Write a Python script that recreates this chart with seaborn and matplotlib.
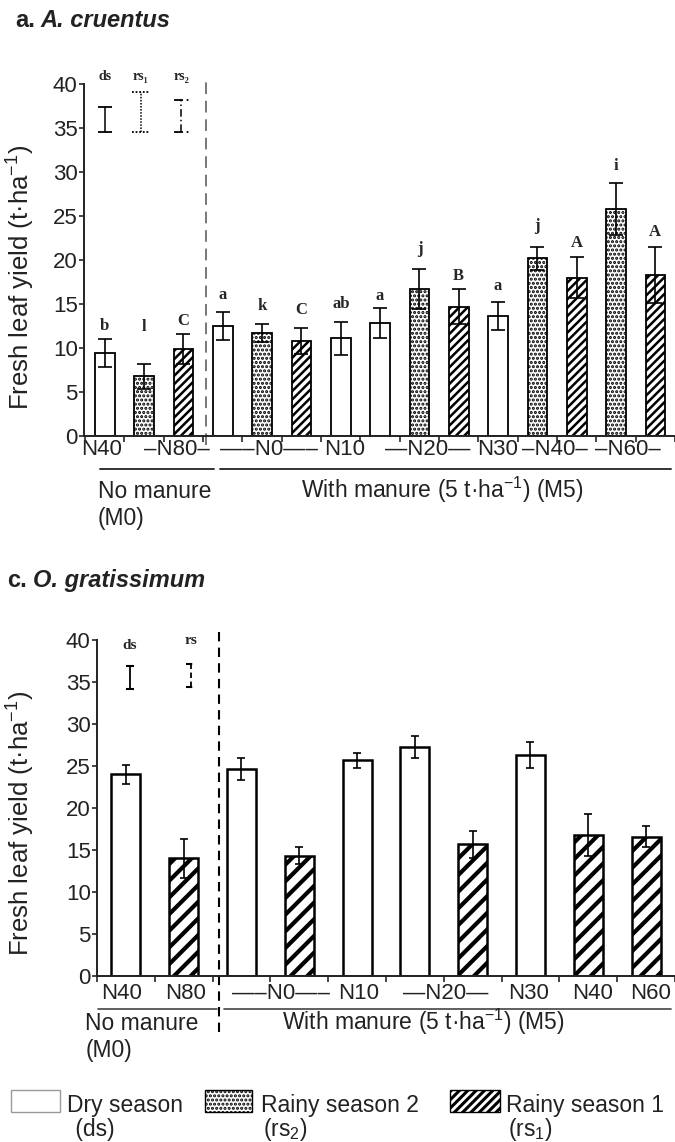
import numpy as np
import pandas as pd
import matplotlib
matplotlib.use("Agg")
import matplotlib.pyplot as plt
from matplotlib.patches import Rectangle
import seaborn as sns

# ---- panel a: A. cruentus ----
a_season = ["ds", "rs2", "rs1", "ds", "rs2", "rs1", "ds", "ds", "rs2", "rs1",
            "ds", "rs2", "rs1", "rs2", "rs1"]
a_yield = [9.4, 6.8, 9.9, 12.5, 11.7, 10.8, 11.1, 12.8, 16.7, 14.7,
           13.6, 20.2, 18.0, 25.8, 18.3]
a_err = [1.6, 1.4, 1.7, 1.6, 1.0, 1.5, 1.85, 1.7, 2.3, 2.0,
         1.6, 1.3, 2.3, 2.9, 3.2]
a_letters = ["b", "l", "C", "a", "k", "C", "ab", "a", "j", "B",
             "a", "j", "A", "i", "A"]
a_letter_y = [12.0, 11.9, 12.6, 15.6, 14.3, 13.9, 14.5, 15.5, 20.8, 17.7,
              16.6, 23.4, 21.5, 30.2, 22.7]
a_tick_labels = ["N40", "–N80–", "—–N0—–", "N10", "—N20—", "N30", "–N40–", "–N60–"]
a_tick_pos = [-0.08, 1.84, 4.17, 6.1, 8.2, 10.0, 11.45, 13.3]
# LSD keys (bottom, top)
a_key_names = ["ds", "rs₁", "rs₂"]
a_key_lo = [34.6, 34.6, 34.6]
a_key_hi = [37.4, 39.1, 38.2]

# ---- panel c: O. gratissimum ----
c_season = ["ds", "rs1", "ds", "rs1", "ds", "ds", "rs1", "ds", "rs1", "rs1"]
c_yield = [24.0, 14.0, 24.6, 14.3, 25.7, 27.3, 15.7, 26.3, 16.8, 16.6]
c_err = [1.1, 2.3, 1.3, 1.0, 0.9, 1.3, 1.6, 1.5, 2.5, 1.3]
c_tick_labels = ["N40", "N80", "—–N0—–", "N10", "—N20—", "N30", "N40", "N60"]
c_tick_pos = [-0.07, 1.04, 2.68, 4.02, 5.53, 6.96, 8.07, 9.07]
c_key_names = ["ds", "rs"]
c_key_lo = [34.2, 34.4]
c_key_hi = [36.9, 37.1]

sns.set_style("ticks")
plt.rcParams["font.family"] = ["Liberation Sans", "DejaVu Sans"]
plt.rcParams["mathtext.fontset"] = "custom"
plt.rcParams["mathtext.rm"] = "Liberation Sans"
plt.rcParams["mathtext.it"] = "Liberation Sans:italic"
plt.rcParams["mathtext.bf"] = "Liberation Sans:bold"
plt.rcParams["hatch.color"] = "black"

SERIF = ["Liberation Serif", "DejaVu Serif"]
TXT = "#222222"


def draw_bars(ax, values, errors, seasons, hatches, hatch_lw, edge_lw, capsize):
    df = pd.DataFrame({"bar": range(len(values)), "yield": values, "season": seasons})
    sns.barplot(data=df, x="bar", y="yield", color="white", saturation=1,
                edgecolor="black", linewidth=edge_lw, width=0.5, errorbar=None, ax=ax)
    for patch, s in zip(ax.patches, seasons):
        patch.set_hatch(hatches[s])
        if hasattr(patch, "set_hatch_linewidth"):
            patch.set_hatch_linewidth(hatch_lw[s])
    ax.errorbar(df["bar"], df["yield"], yerr=errors, fmt="none", ecolor="black",
                elinewidth=1.2, capsize=capsize, capthick=1.2)


def style_axis(ax, tick_pos, tick_labels, n, xlim, pad):
    ax.set_ylim(0, 40)
    ax.set_yticks(range(0, 41, 5))
    ax.set_xlim(*xlim)
    ax.set_xticks(tick_pos)
    ax.set_xticklabels(tick_labels)
    ax.set_xticks(np.arange(-0.5, n, 1.0), minor=True)
    ax.tick_params(axis="x", which="major", length=0, pad=pad, labelsize=16, labelcolor=TXT)
    ax.tick_params(axis="x", which="minor", length=4, width=1.2, direction="out")
    ax.tick_params(axis="y", length=3.5, width=1.2, pad=1, labelsize=16, labelcolor=TXT)
    ax.set_xlabel("")
    ax.set_ylabel("Fresh leaf yield (t·ha$^{-1}$)", fontsize=18.5, color=TXT)
    sns.despine(ax=ax)
    for sp in ["left", "bottom"]:
        ax.spines[sp].set_linewidth(1.4)
        ax.spines[sp].set_color("#222222")


fig = plt.figure(figsize=(6.75, 11.42), dpi=100)

# ---------------- panel a ----------------
ax_a = fig.add_axes([0.1244, 0.6182, 0.8756, 0.3082])
draw_bars(ax_a, a_yield, a_err, a_season,
          {"ds": "", "rs2": "....", "rs1": "////"},
          {"ds": 1.0, "rs2": 1.5, "rs1": 1.8}, 1.3, 5)
style_axis(ax_a, a_tick_pos, a_tick_labels, len(a_yield), (-0.53, 14.39), 2)
ax_a.yaxis.set_label_coords(-0.08, 0.45)

for i, (lab, ly) in enumerate(zip(a_letters, a_letter_y)):
    ax_a.text(i, ly, lab, ha="center", va="baseline", fontsize=12,
              fontweight="bold", family=SERIF)

a_key_x = [0, 0.92, 1.95]
a_key_half = [0.18, 0.23, 0.2]
a_key_ls = ["-", (0, (1, 1)), (0, (5, 2, 1, 2))]
for x, lo, hi, half, ls, name in zip(a_key_x, a_key_lo, a_key_hi, a_key_half, a_key_ls, a_key_names):
    ax_a.vlines(x, lo, hi, colors="black", linestyles=ls, lw=1.1, clip_on=False)
    ax_a.hlines([lo, hi], x - half, x + half, colors="black", linestyles=ls, lw=1.3, clip_on=False)
    ax_a.text(x, 40.5, name, ha="center", va="baseline", fontsize=10,
              fontweight="bold", family=SERIF, clip_on=False)

ax_a.plot([2.58, 2.58], [-1.0, 40.8], color="#777777", lw=1.4, ls=(0, (6, 3.5)), clip_on=False)
ax_a.plot([-0.13, 2.78], [-3.75, -3.75], color="#333333", lw=1.4, clip_on=False)
ax_a.plot([2.93, 14.39], [-3.75, -3.75], color="#333333", lw=1.4, clip_on=False)
ax_a.text(-0.18, -7.05, "No manure", fontsize=16.5, va="baseline", ha="left", color=TXT, clip_on=False)
ax_a.text(-0.18, -10.1, "(M0)", fontsize=16.5, va="baseline", ha="left", color=TXT, clip_on=False)
ax_a.text(5.0, -7.05, "With manure (5 t·ha$^{-1}$) (M5)", fontsize=16.5,
          va="baseline", ha="left", color=TXT, clip_on=False)

# ---------------- panel c ----------------
ax_c = fig.add_axes([0.1437, 0.1454, 0.8563, 0.2942])
draw_bars(ax_c, c_yield, c_err, c_season, {"ds": "", "rs1": "//"},
          {"ds": 1.0, "rs1": 3.0}, 1.8, 3)
style_axis(ax_c, c_tick_pos, c_tick_labels, len(c_yield), (-0.5, 9.43), 5)
ax_c.yaxis.set_label_coords(-0.104, 0.455)

c_key_x = [0.07, 1.12]
c_key_half = [0.07, 0.08]
c_key_ls = ["-", (0, (3, 2))]
for x, lo, hi, half, ls, name, ty in zip(c_key_x, c_key_lo, c_key_hi, c_key_half,
                                         c_key_ls, c_key_names, [38.9, 39.5]):
    ax_c.vlines(x, lo, hi, colors="black", linestyles=ls, lw=1.3, clip_on=False)
    ax_c.hlines([lo, hi], x - half, x + half, colors="black", linestyles=ls, lw=1.5, clip_on=False)
    ax_c.text(x, ty, name, ha="center", va="baseline", fontsize=11,
              fontweight="bold", family=SERIF, clip_on=False)

ax_c.plot([1.615, 1.615], [-6.7, 41.3], color="black", lw=1.5, ls=(0, (4.5, 3)), clip_on=False)
ax_c.plot([-0.48, 1.58], [-3.93, -3.93], color="#444444", lw=1.2, clip_on=False)
ax_c.plot([1.70, 9.43], [-3.93, -3.93], color="#444444", lw=1.2, clip_on=False)
ax_c.text(-0.70, -6.43, "No manure", fontsize=16.5, va="baseline", ha="left", color=TXT, clip_on=False)
ax_c.text(-0.70, -9.7, "(M0)", fontsize=16.5, va="baseline", ha="left", color=TXT, clip_on=False)
ax_c.text(2.70, -6.43, "With manure (5 t·ha$^{-1}$) (M5)", fontsize=16.5,
          va="baseline", ha="left", color=TXT, clip_on=False)

# ---------------- titles ----------------
H = 1142.0
fig.text(15 / 675, 1 - 27 / H, "a.", fontsize=17, fontweight="bold", va="baseline", color=TXT)
fig.text(40 / 675, 1 - 27 / H, "A. cruentus", fontsize=17, fontweight="bold",
         style="italic", va="baseline", color=TXT)
fig.text(7 / 675, 1 - 587 / H, "c.", fontsize=17, fontweight="bold", va="baseline", color=TXT)
fig.text(33 / 675, 1 - 587 / H, "O. gratissimum", fontsize=17, fontweight="bold",
         style="italic", va="baseline", color=TXT)

# ---------------- legend ----------------
legend_items = [("", 1.0, 11, 49, "#999999", "Dry season", " (ds)", 67),
                ("....", 1.5, 205, 47, "black", "Rainy season 2", "(rs$_2$)", 261),
                ("////", 2.2, 450, 50, "black", "Rainy season 1", "(rs$_1$)", 506)]
for hatch, hlw, x0, w, ec, l1, l2, tx in legend_items:
    r = Rectangle((x0 / 675, 1 - 1112 / H), w / 675, 22 / H, transform=fig.transFigure,
                  facecolor="white", edgecolor=ec, lw=1.0, hatch=hatch)
    if hasattr(r, "set_hatch_linewidth"):
        r.set_hatch_linewidth(hlw)
    fig.patches.append(r)
    fig.text(tx / 675, 1 - 1112 / H, l1, fontsize=16.5, va="baseline", color=TXT)
    fig.text((tx + 2) / 675, 1 - 1136 / H, l2, fontsize=16.5, va="baseline", color=TXT)

fig.savefig("out.png", dpi=100)
